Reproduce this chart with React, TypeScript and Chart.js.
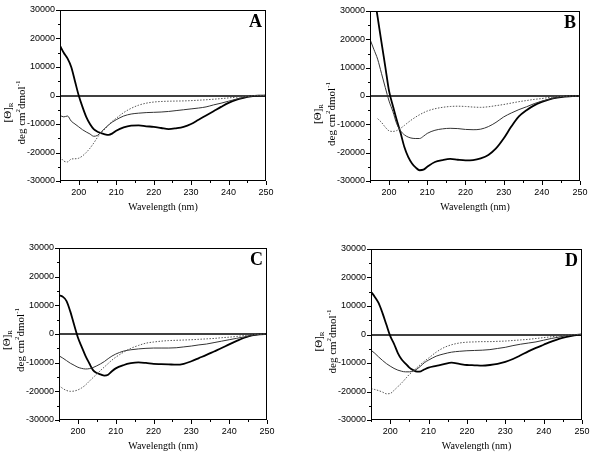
import React, { useEffect, useRef } from "react";
import { Chart, registerables } from "chart.js";

Chart.register(...registerables);

// ---------------- data ----------------
const WAVELENGTHS = [195, 196, 197, 198, 199, 200, 201, 202, 203, 204, 205, 206, 207, 208, 209, 210, 212, 214, 216, 218, 220, 222, 224, 226, 228, 230, 232, 234, 236, 238, 240, 242, 244, 246, 248, 250];

const A_HEAVY = [17500, 15000, 13000, 10000, 5000, 0, -4000, -7500, -10000, -11800, -12700, -13200, -13600, -13800, -13300, -12400, -11200, -10600, -10500, -10800, -11000, -11400, -11800, -11500, -11000, -10000, -8500, -7000, -5500, -4000, -2600, -1500, -800, -300, -50, 0];
const A_THIN = [-7000, -7500, -7200, -9000, -10000, -11000, -12000, -12800, -13500, -14300, -14000, -12800, -11500, -10300, -9300, -8500, -7200, -6500, -6200, -6000, -5900, -5800, -5600, -5300, -5000, -4700, -4400, -4000, -3300, -2700, -2000, -1300, -700, -200, 0, 0];
const A_DOTTED = [-21500, -23000, -23300, -22300, -22200, -22000, -21200, -20000, -18500, -16700, -14700, -13000, -11800, -10300, -9000, -8000, -6000, -4500, -3400, -2700, -2300, -2100, -2000, -1950, -1900, -1800, -1650, -1500, -1300, -1100, -850, -600, -350, -150, 0, 0];

const B_HEAVY = [45000, 36500, 27800, 19000, 10400, 1700, -3500, -8500, -13000, -18000, -21500, -23800, -25300, -26200, -26000, -25000, -23300, -22600, -22200, -22500, -22700, -22600, -22000, -20800, -18500, -15000, -10800, -7200, -5000, -3300, -2100, -1200, -600, -200, 0, 0];
const B_THIN = [20000, 16500, 13000, 8000, 3000, -1800, -5500, -9800, -12300, -13700, -14500, -14900, -15000, -15000, -14200, -13200, -12100, -11600, -11400, -11500, -11800, -11900, -11700, -10800, -9300, -7400, -6000, -4800, -3800, -2700, -1800, -1100, -500, -100, 0, 0];
const B_DOTTED = [null, null, -8000, -9300, -11000, -12300, -12500, -12200, -11400, -10400, -9300, -8300, -7400, -6600, -5900, -5300, -4500, -4000, -3700, -3600, -3700, -3900, -4000, -3800, -3400, -3000, -2500, -2000, -1600, -1200, -900, -500, -250, -50, 0, 0];

const C_HEAVY = [13500, 13000, 11500, 7800, 3200, -1200, -4500, -7600, -10200, -12600, -13600, -14100, -14500, -14200, -13000, -12000, -10900, -10200, -9900, -10100, -10400, -10500, -10600, -10700, -10400, -9500, -8400, -7300, -6100, -4900, -3600, -2400, -1300, -500, -100, 0];
const C_THIN = [-7600, -8400, -9300, -10200, -10900, -11600, -12000, -12200, -12100, -11700, -11100, -10400, -9600, -8600, -7700, -7000, -6000, -5500, -5200, -5000, -4900, -4900, -4900, -4800, -4500, -4200, -3800, -3500, -3000, -2500, -2000, -1500, -1000, -500, -100, 0];
const C_DOTTED = [-18000, -19000, -19700, -20000, -19900, -19500, -18800, -17800, -16500, -15200, -14000, -12700, -11500, -10300, -9100, -8100, -6400, -5000, -4000, -3200, -2800, -2500, -2300, -2200, -2100, -2000, -1850, -1700, -1550, -1300, -1100, -850, -550, -250, -50, 0];

const D_HEAVY = [15000, 13200, 11000, 7500, 3500, -500, -3300, -6500, -8800, -10200, -11600, -12500, -13000, -12900, -12200, -11600, -11000, -10400, -9900, -10300, -10700, -10800, -10900, -10700, -10300, -9600, -8600, -7300, -5900, -4700, -3600, -2500, -1500, -800, -300, 0];
const D_THIN = [-5500, -6600, -7900, -9100, -10200, -11100, -11900, -12500, -12900, -13100, -13100, -12800, -12100, -11000, -9800, -9000, -7600, -6800, -6200, -5900, -5700, -5600, -5500, -5300, -4900, -4500, -3900, -3400, -3000, -2600, -2000, -1400, -900, -400, -100, 0];
const D_DOTTED = [-19000, -19300, -19700, -20200, -20800, -20700, -19600, -18300, -17000, -15500, -14000, -12800, -11600, -10400, -9300, -8300, -6200, -4600, -3600, -3000, -2700, -2600, -2500, -2500, -2400, -2300, -2100, -1900, -1700, -1400, -1100, -800, -500, -200, -50, 0];

const PANEL_LABELS = ["A", "B", "C", "D"];
const X_MIN = 195;
const X_MAX = 250;
const X_STEP = 5;
const X_LABEL_STEP = 10;
const Y_MIN = -30000;
const Y_MAX = 30000;
const Y_STEP = 5000;
const Y_LABEL_STEP = 10000;
const X_TITLE = "Wavelength (nm)";

const SERIES = [
  [A_HEAVY, A_THIN, A_DOTTED],
  [B_HEAVY, B_THIN, B_DOTTED],
  [C_HEAVY, C_THIN, C_DOTTED],
  [D_HEAVY, D_THIN, D_DOTTED],
];

// ---------------- layout ----------------
const Y_AXIS_W = 60;
const X_AXIS_H = 40;
const PAD_TOP = 12;
const PAD_RIGHT = 14;

const LAYOUT = [
  { left: 60, top: 10, w: 206, h: 171, titleDy: 17 },
  { left: 370, top: 11, w: 210, h: 170, titleDy: 18 },
  { left: 59, top: 248, w: 208, h: 172, titleDy: 6 },
  { left: 371, top: 249, w: 211, h: 171, titleDy: 7 },
];

const TICK_FONT = "'Liberation Sans Narrow', 'Liberation Sans', Arial, sans-serif";
const SERIF = "'Liberation Serif', 'Times New Roman', serif";

type Seg = { t: string; size: number; dy: number };

function drawSegs(ctx: CanvasRenderingContext2D, segs: Seg[], cx: number, cy: number) {
  ctx.save();
  ctx.translate(cx, cy);
  ctx.rotate(-Math.PI / 2);
  let total = 0;
  const widths = segs.map((s) => {
    ctx.font = `${s.size}px ${SERIF}`;
    const w = ctx.measureText(s.t).width;
    total += w;
    return w;
  });
  let x = -total / 2;
  ctx.textBaseline = "middle";
  ctx.textAlign = "left";
  segs.forEach((s, i) => {
    ctx.font = `${s.size}px ${SERIF}`;
    ctx.fillText(s.t, x, s.dy);
    x += widths[i];
  });
  ctx.restore();
}

const framePlugin = {
  id: "cdFrame",
  beforeDatasetsDraw(chart: any) {
    const { ctx, chartArea: a, scales } = chart;
    const y0 = Math.round(scales.y.getPixelForValue(0));
    ctx.save();
    ctx.strokeStyle = "#000";
    ctx.lineWidth = 1.5;
    ctx.beginPath();
    ctx.moveTo(a.left, y0);
    ctx.lineTo(a.right, y0);
    ctx.stroke();
    ctx.restore();
  },
  afterDraw(chart: any, _args: any, opts: any) {
    const { ctx, chartArea: a, scales } = chart;
    const xs = scales.x;
    const ys = scales.y;
    ctx.save();
    ctx.strokeStyle = "#000";
    ctx.fillStyle = "#000";
    ctx.lineWidth = 1;
    ctx.strokeRect(Math.round(a.left) + 0.5, Math.round(a.top) + 0.5, Math.round(a.right - a.left) - 1, Math.round(a.bottom - a.top) - 1);
    // tick marks
    ctx.beginPath();
    xs.ticks.forEach((t: any) => {
      const px = Math.round(xs.getPixelForValue(t.value)) + 0.5;
      const len = t.value % X_LABEL_STEP === 0 ? 4 : 2;
      ctx.moveTo(px, a.bottom);
      ctx.lineTo(px, a.bottom + len);
    });
    ys.ticks.forEach((t: any) => {
      const py = Math.round(ys.getPixelForValue(t.value)) + 0.5;
      const len = t.value % Y_LABEL_STEP === 0 ? 4 : 2;
      ctx.moveTo(a.left, py);
      ctx.lineTo(a.left - len, py);
    });
    ctx.stroke();
    // panel letter
    ctx.font = `bold 18px ${SERIF}`;
    ctx.textAlign = "right";
    ctx.textBaseline = "alphabetic";
    ctx.fillText(opts.label, a.right - 4, a.top + 17);
    // x title
    ctx.font = `10px ${SERIF}`;
    ctx.textAlign = "center";
    ctx.textBaseline = "middle";
    ctx.fillText(X_TITLE, (a.left + a.right) / 2, a.bottom + 26.5);
    ctx.restore();
    // y title
    const cy = (a.top + a.bottom) / 2 + opts.titleDy;
    ctx.save();
    ctx.fillStyle = "#000";
    drawSegs(ctx, [
      { t: "[Θ]", size: 11, dy: 0 },
      { t: "R", size: 7, dy: 3 },
    ], a.left - 52, cy);
    drawSegs(ctx, [
      { t: "deg cm", size: 11, dy: 0 },
      { t: "2", size: 7, dy: -4 },
      { t: "dmol", size: 11, dy: 0 },
      { t: "-1", size: 7, dy: -4 },
    ], a.left - 38, cy);
    ctx.restore();
  },
};

function Panel({ index }: { index: number }) {
  const ref = useRef<HTMLCanvasElement | null>(null);
  const lay = LAYOUT[index];
  const cw = Y_AXIS_W + lay.w + PAD_RIGHT;
  const ch = PAD_TOP + lay.h + X_AXIS_H;

  useEffect(() => {
    const canvas = ref.current;
    if (!canvas) return;
    const [heavy, thin, dotted] = SERIES[index];
    const toPts = (vals: (number | null)[]) => WAVELENGTHS.map((x, i) => ({ x, y: vals[i] }));
    const chart = new Chart(canvas, {
      type: "line",
      data: {
        datasets: [
          { data: toPts(dotted), borderColor: "#555", borderWidth: 1, borderDash: [1.5, 1.5] },
          { data: toPts(thin), borderColor: "#333", borderWidth: 1 },
          { data: toPts(heavy), borderColor: "#000", borderWidth: 1.8 },
        ] as any,
      },
      options: {
        responsive: false,
        animation: false,
        devicePixelRatio: 1,
        layout: { padding: { top: PAD_TOP, right: PAD_RIGHT, left: 0, bottom: 0 } },
        elements: {
          point: { radius: 0 },
          line: { cubicInterpolationMode: "monotone", fill: false },
        },
        plugins: {
          legend: { display: false },
          tooltip: { enabled: false },
          cdFrame: { label: PANEL_LABELS[index], titleDy: lay.titleDy },
        } as any,
        scales: {
          x: {
            type: "linear",
            min: X_MIN,
            max: X_MAX,
            border: { display: false },
            grid: { display: true, drawOnChartArea: false, drawTicks: true, tickLength: 4, color: "rgba(0,0,0,0)" },
            ticks: {
              stepSize: X_STEP,
              autoSkip: false,
              maxRotation: 0,
              minRotation: 0,
              padding: 2,
              color: "#000",
              font: { family: TICK_FONT, size: 9 },
              callback: (v: any) => (Number(v) % X_LABEL_STEP === 0 ? String(v) : ""),
            },
            afterFit: (s: any) => {
              s.height = X_AXIS_H;
            },
          },
          y: {
            type: "linear",
            min: Y_MIN,
            max: Y_MAX,
            border: { display: false },
            grid: { display: true, drawOnChartArea: false, drawTicks: true, tickLength: 4, color: "rgba(0,0,0,0)" },
            ticks: {
              stepSize: Y_STEP,
              autoSkip: false,
              padding: 1,
              color: "#000",
              font: { family: TICK_FONT, size: 9 },
              callback: (v: any) => (Number(v) % Y_LABEL_STEP === 0 ? String(v) : ""),
            },
            afterFit: (s: any) => {
              s.width = Y_AXIS_W;
            },
          },
        },
      } as any,
      plugins: [framePlugin],
    });
    return () => chart.destroy();
  }, [index]);

  return (
    <canvas
      ref={ref}
      width={cw}
      height={ch}
      style={{
        position: "absolute",
        left: lay.left - Y_AXIS_W,
        top: lay.top - PAD_TOP,
        width: cw,
        height: ch,
      }}
    />
  );
}

export default function App() {
  return (
    <div style={{ position: "absolute", left: 0, top: 0, width: 593, height: 457, background: "#fff", overflow: "hidden" }}>
      {PANEL_LABELS.map((_, i) => (
        <Panel key={i} index={i} />
      ))}
    </div>
  );
}
